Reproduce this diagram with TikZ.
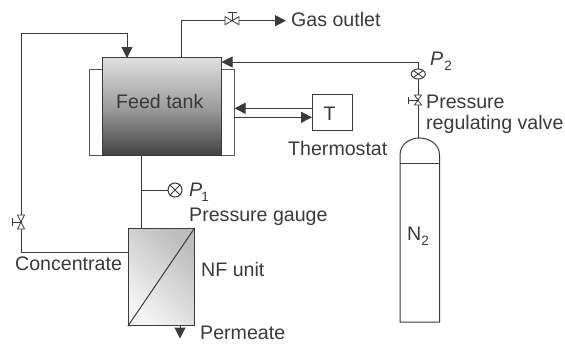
\documentclass[tikz,border=0pt]{standalone}
\usepackage{fontspec}
\setmainfont{Liberation Sans}
\usetikzlibrary{arrows.meta,calc}
\definecolor{ink}{HTML}{3A3A3A}
\pgfdeclareverticalshading{tankshade}{100bp}{color(0bp)=(black!74); color(25bp)=(black!74); color(50bp)=(black!38); color(75bp)=(black!12); color(100bp)=(black!12)}
\tikzset{
  pipe/.style={draw=ink,line width=1pt},
  flow/.style={pipe,-{Triangle[length=11pt,width=11pt,color=ink]}},
  lbl/.style={inner sep=0pt,text=ink,font=\fontsize{19.6}{21}\selectfont,anchor=base west},
  gaugebody/.style={draw=ink,line width=1pt,fill=white},
  valvebody/.style={draw=ink,line width=.8pt,fill=white},
  stem/.style={ink,line width=.9pt},
}
\newcommand{\subsc}[1]{\raisebox{-5pt}{\fontsize{13.5}{14}\selectfont #1}}
\begin{document}
\begin{tikzpicture}[x=1pt,y=-1pt]
\useasboundingbox (0,0) rectangle (565,343);
\fill[white] (0,0) rectangle (565,343);
% coordinates
\coordinate (jTL) at (89,69.3); \coordinate (jBR) at (234,155.3);
\coordinate (outA) at (181,58); \coordinate (outB) at (181,20.7);
\coordinate (outV) at (232,20.7); \coordinate (outE) at (286,20.7);
\coordinate (recA) at (128,252.3); \coordinate (recB) at (21,252.3);
\coordinate (recV) at (21,222); \coordinate (recC) at (21,33.3);
\coordinate (recD) at (127,33.3); \coordinate (recE) at (127,58);
\coordinate (feedA) at (141.7,155); \coordinate (feedB) at (141.7,228);
\coordinate (g1a) at (141.7,190);
\coordinate (n2a) at (418,138); \coordinate (n2V) at (418,100);
\coordinate (n2b) at (418,62); \coordinate (n2c) at (221.5,62);
\coordinate (thA) at (312,108.3); \coordinate (thB) at (234.5,108.3);
\coordinate (thC) at (234,117.3); \coordinate (thD) at (312,117.3);
\coordinate (pA) at (180,326); \coordinate (pB) at (180,338.5);
\coordinate (g2) at (418.3,74);
% pipes
\draw[pipe] (outA) -- (outB) -- (outV);
\draw[flow] (outV) -- (outE);
\draw[flow] (recA) -- (recB) -- (recC) -- (recD) -- (recE);
\draw[pipe] (feedA) -- (feedB);
\draw[flow] (n2a) -- (n2b) -- (n2c);
% jacket and tank
\draw[draw=ink!85,line width=1pt,fill=white] (jTL) rectangle (jBR);
\node[draw=ink,line width=1pt,inner sep=0pt,minimum width=118.7pt,minimum height=97.6pt,shading=tankshade] (tank) at (161.65,106.5) {};
\node[lbl] (tanklbl) at (116,108.5) {Feed tank};
% thermostat
\node[draw=ink,line width=1pt,fill=white,minimum width=40.5pt,minimum height=36.5pt,inner sep=0pt] (Tbox) at (332.5,112.5) {};
\node[lbl] (T) at (323.5,120.5) {T};
\draw[flow] (thA) -- (thB);
\draw[flow] (thC) -- (thD);
% gauges
\node[gaugebody,circle,minimum size=14pt,inner sep=0pt] (g1) at (175,190) {};
\draw[pipe] (g1a) -- (g1);
\draw[stem] (g1.north west) -- (g1.south east) (g1.north east) -- (g1.south west);
\draw[gaugebody] (g2) ellipse (7 and 5);
\draw[stem] ($(g2)+(-5,-3.5)$) -- ($(g2)+(5,3.5)$) ($(g2)+(5,-3.5)$) -- ($(g2)+(-5,3.5)$);
% valves
\draw[valvebody] ($(outV)+(-7,-4)$) -- ($(outV)+(7,4)$) -- ($(outV)+(7,-4)$) -- ($(outV)+(-7,4)$) -- cycle;
\draw[stem] (outV) -- ($(outV)+(0,-8.5)$) ($(outV)+(-4.5,-8.5)$) -- ($(outV)+(4.5,-8.5)$);
\draw[valvebody] ($(recV)+(-3.5,-7)$) -- ($(recV)+(3.5,7)$) -- ($(recV)+(-3.5,7)$) -- ($(recV)+(3.5,-7)$) -- cycle;
\draw[stem] (recV) -- ($(recV)+(-9,0)$) ($(recV)+(-9,-4)$) -- ($(recV)+(-9,4)$);
\draw[valvebody] ($(n2V)+(-3.5,-5)$) -- ($(n2V)+(3.5,5)$) -- ($(n2V)+(-3.5,5)$) -- ($(n2V)+(3.5,-5)$) -- cycle;
\draw[stem] (n2V) -- ($(n2V)+(-9.5,0)$) ($(n2V)+(-9.5,-3.5)$) -- ($(n2V)+(-9.5,3.5)$);
% NF unit
\node[draw=ink,line width=1pt,inner sep=0pt,minimum width=66pt,minimum height=97.4pt,
  shading=axis,left color=black!26,right color=black!4,shading angle=315] (nf) at (161.3,277) {};
\draw[ink,line width=1pt] (nf.south west) -- (nf.north east);
\draw[flow] (pA) -- (pB);
% N2 cylinder
\draw[draw=ink,line width=1pt,fill=white] (400,322) -- (400,155) .. controls (400,144) and (410,138) .. (419.5,138) .. controls (429,138) and (439.5,144) .. (439.5,155) -- (439.5,322) -- cycle;
\coordinate (cylL) at (400,163.5); \coordinate (cylR) at (439.5,163.5);
\draw[pipe] (cylL) -- (cylR);
% labels
\node[lbl] (l1) at (291,26) {Gas outlet};
\node[lbl] (l2) at (430,65) {\textit{P}\kern1pt\subsc{2}};
\node[lbl] (l3) at (426,108) {Pressure};
\node[lbl] (l4) at (426,129) {regulating valve};
\node[lbl] (l5) at (288,155) {Thermostat};
\node[lbl] (l6) at (189,196) {\textit{P}\kern-1pt\subsc{1}};
\node[lbl] (l7) at (189,221.7) {Pressure gauge};
\node[lbl] (l8) at (15,270.7) {Concentrate};
\node[lbl] (l9) at (201,276.7) {NF unit};
\node[lbl] (l10) at (200,339.5) {Permeate};
\node[lbl] (l11) at (407,240) {N\subsc{2}};
\end{tikzpicture}
\end{document}
